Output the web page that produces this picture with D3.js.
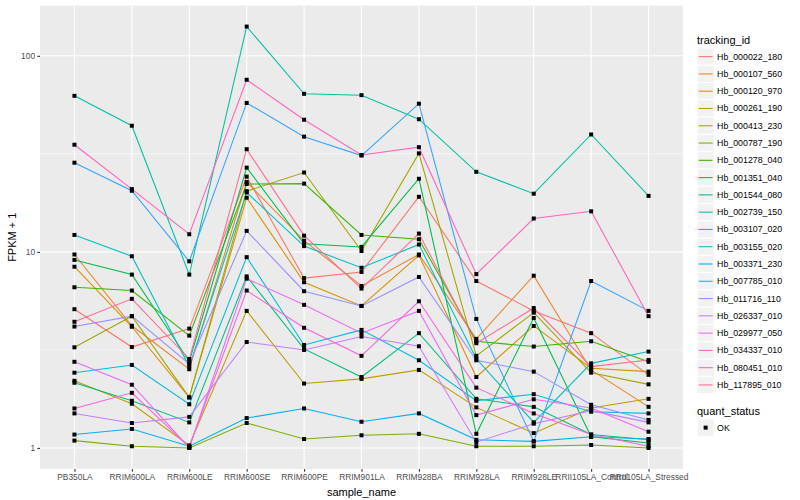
<!DOCTYPE html>
<html><head><meta charset="utf-8">
<script src="https://cdn.jsdelivr.net/npm/d3@7/dist/d3.min.js"></script>
<style>
body{margin:0;background:#fff}
svg{display:block}
text{font-family:"Liberation Sans",Arial,Helvetica,sans-serif}
</style>
</head><body>
<svg id="chart" width="800" height="500"></svg>
<script>
// ---------- data ----------
const samples = ["PB350LA","RRIM600LA","RRIM600LE","RRIM600SE","RRIM600PE","RRIM901LA","RRIM928BA","RRIM928LA","RRIM928LE","RRII105LA_Control","RRII105LA_Stressed"];
const trackingIds = ["Hb_000022_180","Hb_000107_560","Hb_000120_970","Hb_000261_190","Hb_000413_230","Hb_000787_190","Hb_001278_040","Hb_001351_040","Hb_001544_080","Hb_002739_150","Hb_003107_020","Hb_003155_020","Hb_003371_230","Hb_007785_010","Hb_011716_110","Hb_026337_010","Hb_029977_050","Hb_034337_010","Hb_080451_010","Hb_117895_010"];
const Hb_000022_180 = [5.1, 3.27, 4.06, 24.2, 7.35, 7.9, 19.1, 7.1, 5.0, 3.85, 2.36];
const Hb_000107_560 = [9.7, 4.2, 2.52, 22.7, 11.4, 6.7, 9.7, 3.6, 7.56, 2.5, 1.62];
const Hb_000120_970 = [8.4, 4.15, 1.81, 18.9, 7.0, 5.3, 9.6, 2.3, 4.19, 2.55, 2.45];
const Hb_000261_190 = [2.2, 1.68, 1.03, 5.0, 2.13, 2.25, 2.5, 1.61, 1.19, 1.6, 1.78];
const Hb_000413_230 = [3.26, 4.7, 1.81, 20.4, 25.4, 10.1, 31.8, 2.95, 4.9, 2.42, 2.11];
const Hb_000787_190 = [1.09, 1.02, 1.0, 1.34, 1.11, 1.16, 1.18, 1.02, 1.02, 1.035, 1.0];
const Hb_001278_040 = [6.6, 6.35, 3.74, 22.2, 22.3, 12.2, 11.6, 3.5, 3.29, 3.5, 2.75];
const Hb_001351_040 = [9.1, 7.66, 2.76, 26.9, 11.0, 10.6, 23.6, 1.18, 4.6, 1.14, 1.06];
const Hb_001544_080 = [2.15, 1.74, 1.35, 7.5, 3.2, 2.3, 3.85, 1.78, 1.62, 1.17, 1.1];
const Hb_002739_150 = [62.5, 44, 7.66, 141, 64, 63, 47.5, 25.6, 19.8, 39.7, 19.3];
const Hb_003107_020 = [12.2, 9.5, 2.6, 20.1, 10.7, 8.3, 10.9, 2.85, 1.35, 2.7, 3.1];
const Hb_003155_020 = [2.42, 2.65, 1.67, 9.4, 3.35, 4.0, 2.8, 1.74, 1.88, 1.53, 1.5];
const Hb_003371_230 = [1.17, 1.25, 1.02, 1.42, 1.59, 1.36, 1.5, 1.1, 1.08, 1.14, 1.11];
const Hb_007785_010 = [28.5, 20.5, 8.95, 57.5, 38.7, 31, 57, 4.55, 1.08, 7.1, 5.0];
const Hb_011716_110 = [4.16, 4.7, 2.68, 12.8, 6.3, 5.3, 7.45, 2.8, 2.45, 1.66, 1.39];
const Hb_026337_010 = [1.5, 1.34, 1.44, 3.47, 3.16, 3.7, 3.3, 1.07, 1.33, 1.55, 1.35];
const Hb_029977_050 = [2.75, 2.1, 1.0, 7.3, 5.37, 3.85, 5.0, 1.47, 1.77, 1.6, 1.21];
const Hb_034337_010 = [1.59, 1.91, 1.01, 6.35, 4.1, 2.95, 5.6, 2.03, 1.5, 1.17, 1.02];
const Hb_080451_010 = [35.2, 20.9, 12.3, 75.5, 47.2, 31.2, 34.2, 7.7, 14.8, 16.1, 4.7];
const Hb_117895_010 = [4.4, 5.76, 2.84, 33.4, 12.1, 6.5, 12.4, 3.42, 5.17, 2.6, 2.81];
const seriesValues = [Hb_000022_180,Hb_000107_560,Hb_000120_970,Hb_000261_190,Hb_000413_230,Hb_000787_190,Hb_001278_040,Hb_001351_040,Hb_001544_080,Hb_002739_150,Hb_003107_020,Hb_003155_020,Hb_003371_230,Hb_007785_010,Hb_011716_110,Hb_026337_010,Hb_029977_050,Hb_034337_010,Hb_080451_010,Hb_117895_010];
const quantStatus = ["OK"];
const yTickValues = [1, 10, 100];
const yTickLabels = ["1", "10", "100"];

// ---------- chart ----------
const svg = d3.select("#chart");
const P = {l: 40, r: 683, t: 5.5, b: 469};
const hue = ["#F8766D","#EA8331","#D89000","#C09B00","#A3A500","#7CAE00","#39B600","#00BB4E","#00BF7D","#00C1A3","#00BFC4","#00BAE0","#00B0F6","#35A2FF","#9590FF","#C77CFF","#E76BF3","#FA62DB","#FF62BC","#FF6C90"];
const color = d3.scaleOrdinal().domain(trackingIds).range(hue);

const series = trackingIds.map((id, i) => ({id, values: samples.map((s, j) => ({sample: s, v: seriesValues[i][j]}))}));
const allV = seriesValues.flat();
const lmin = Math.log10(d3.min(allV)), lmax = Math.log10(d3.max(allV));
const ex = (lmax - lmin) * 0.05;

const x = d3.scalePoint().domain(samples).range([P.l, P.r]).padding(0.6);
const y = d3.scaleLog().domain([Math.pow(10, lmin - ex), Math.pow(10, lmax + ex)]).range([P.b, P.t]);

svg.append("rect").attr("x", P.l).attr("y", P.t).attr("width", P.r - P.l).attr("height", P.b - P.t).attr("fill", "#EBEBEB");

// minor grid (log midpoints)
const minor = [];
for (let i = 0; i < yTickValues.length - 1; i++) minor.push(Math.sqrt(yTickValues[i] * yTickValues[i + 1]));
svg.append("g").selectAll("line").data(minor).join("line")
  .attr("x1", P.l).attr("x2", P.r).attr("y1", d => y(d)).attr("y2", d => y(d))
  .attr("stroke", "#fff").attr("stroke-width", 0.55);
svg.append("g").selectAll("line").data(yTickValues).join("line")
  .attr("x1", P.l).attr("x2", P.r).attr("y1", d => y(d)).attr("y2", d => y(d))
  .attr("stroke", "#fff").attr("stroke-width", 1.1);
svg.append("g").selectAll("line").data(samples).join("line")
  .attr("y1", P.t).attr("y2", P.b).attr("x1", d => x(d)).attr("x2", d => x(d))
  .attr("stroke", "#fff").attr("stroke-width", 1.1);

// axes
const yAxis = d3.axisLeft(y).tickValues(yTickValues).tickFormat((d, i) => yTickLabels[i]).tickSize(2.75).tickPadding(2.2);
const gy = svg.append("g").attr("transform", `translate(${P.l},0)`).call(yAxis);
gy.select(".domain").remove();
gy.selectAll(".tick line").attr("stroke", "#333333").attr("stroke-width", 1.07);
gy.selectAll(".tick text").attr("fill", "#4D4D4D").style("font-size", "8.4px").style("font-family", "Liberation Sans, Arial, sans-serif");

const xAxis = d3.axisBottom(x).tickSize(2.75).tickPadding(2.2);
const gx = svg.append("g").attr("transform", `translate(0,${P.b})`).call(xAxis);
gx.select(".domain").remove();
gx.selectAll(".tick line").attr("stroke", "#333333").attr("stroke-width", 1.07);
gx.selectAll(".tick text").attr("fill", "#4D4D4D").style("font-size", "8.4px").style("font-family", "Liberation Sans, Arial, sans-serif");

// lines
const line = d3.line().x(d => x(d.sample)).y(d => y(d.v));
svg.append("g").selectAll("path").data(series).join("path")
  .attr("d", d => line(d.values)).attr("fill", "none")
  .attr("stroke", d => color(d.id)).attr("stroke-width", 1.07);

// points
const pts = series.flatMap(s => s.values);
svg.append("g").selectAll("rect").data(pts).join("rect")
  .attr("x", d => x(d.sample) - 2).attr("y", d => y(d.v) - 2)
  .attr("width", 4).attr("height", 4).attr("fill", "#000");

// axis titles
svg.append("text").attr("x", (P.l + P.r) / 2).attr("y", 496).attr("text-anchor", "middle")
  .style("font-size", "11px").attr("fill", "#000").text("sample_name");
svg.append("text").attr("transform", `translate(16,${(P.t + P.b) / 2}) rotate(-90)`).attr("text-anchor", "middle")
  .style("font-size", "11px").attr("fill", "#000").text("FPKM + 1");

// legend: tracking_id
const LX = 697, keyS = 17.28, L0 = 48;
svg.append("text").attr("x", LX).attr("y", 44).style("font-size", "11px").attr("fill", "#000").text("tracking_id");
const lg = svg.append("g").selectAll("g").data(trackingIds).join("g")
  .attr("transform", (d, i) => `translate(${LX},${L0 + i * keyS})`);
lg.append("rect").attr("width", keyS).attr("height", keyS).attr("fill", "#F2F2F2").attr("stroke", "#fff").attr("stroke-width", 1);
lg.append("line").attr("x1", 1.7).attr("x2", keyS - 1.7).attr("y1", keyS / 2).attr("y2", keyS / 2)
  .attr("stroke", d => color(d)).attr("stroke-width", 1.07);
lg.append("text").attr("x", keyS + 2.8).attr("y", keyS / 2 + 3).style("font-size", "8.8px").attr("fill", "#000").text(d => d);

// legend: quant_status
const Q0 = 419;
svg.append("text").attr("x", LX).attr("y", 415).style("font-size", "11px").attr("fill", "#000").text("quant_status");
const qg = svg.append("g").selectAll("g").data(quantStatus).join("g")
  .attr("transform", (d, i) => `translate(${LX},${Q0 + i * keyS})`);
qg.append("rect").attr("width", keyS).attr("height", keyS).attr("fill", "#F2F2F2").attr("stroke", "#fff").attr("stroke-width", 1);
qg.append("rect").attr("x", keyS / 2 - 2).attr("y", keyS / 2 - 2).attr("width", 4).attr("height", 4).attr("fill", "#000");
qg.append("text").attr("x", keyS + 2.8).attr("y", keyS / 2 + 3).style("font-size", "8.8px").attr("fill", "#000").text(d => d);
</script>
</body></html>
